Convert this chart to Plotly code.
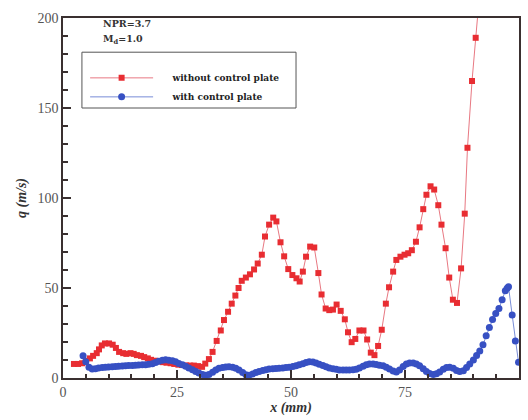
import plotly.graph_objects as go

red_x = [2.4, 3.3, 4.2, 5.0, 5.9, 6.6, 7.4, 7.9, 8.5, 9.2, 10.1, 10.9, 11.6, 12.3, 13.2, 13.9,
         14.8, 15.5, 16.2, 17.1, 17.8, 18.6, 19.3, 20.2, 21.0, 21.9, 22.7, 23.6, 24.4, 25.3,
         26.1, 27.0, 27.9, 28.7, 29.6, 30.5, 31.2, 32.0, 32.8, 33.7, 34.6, 35.3, 36.2, 37.0,
         37.8, 38.5, 39.2, 40.1, 41.0, 41.9, 42.7, 43.6, 44.3, 45.2, 46.1, 46.8, 47.7, 48.5,
         49.4, 50.3, 51.2, 51.9, 52.6, 53.3, 54.2, 55.1, 56.0, 56.7, 57.6, 58.4, 59.2, 60.0,
         60.9, 61.8, 62.5, 63.3, 64.1, 65.0, 65.9, 66.7, 67.5, 68.3, 69.1, 69.9, 70.8, 71.5,
         72.4, 73.1, 74.0, 74.9, 75.7, 76.5, 77.4, 78.2, 79.0, 79.7, 80.6, 81.4, 82.3, 83.0,
         83.9, 84.7, 85.5, 86.4, 87.3, 88.1, 88.7, 89.7, 90.5, 91.3]
red_y = [7.8, 7.8, 8.2, 9.6, 10.9, 12.3, 13.8, 15.9, 18.1, 19.2, 19.2, 18.5, 16.7, 14.5, 13.8, 13.4,
         13.8, 13.4, 12.7, 12.3, 11.6, 10.9, 10.1, 9.6, 9.2, 8.8, 8.5, 8.2, 7.8, 7.4,
         7.2, 7.0, 6.9, 6.9, 6.6, 6.2, 8.0, 10.5, 14.5, 20.6, 26.4, 32.2, 36.8, 41.3,
         45.8, 50.0, 54.0, 55.8, 57.6, 60.3, 63.6, 68.5, 78.6, 85.2, 89.1, 87.0, 75.4, 67.6,
         60.5, 57.2, 55.4, 53.6, 59.1, 67.4, 73.0, 72.5, 58.3, 46.4, 38.6, 37.7, 38.0, 40.8,
         37.3, 32.6, 25.4, 19.9, 21.7, 26.4, 26.4, 21.4, 14.1, 12.7, 17.8, 26.8, 41.3, 50.4,
         59.1, 65.6, 67.4, 68.5, 69.3, 71.0, 75.7, 83.7, 93.8, 101.8, 106.5, 104.7, 96.0, 85.2,
         72.1, 55.8, 43.5, 41.7, 60.9, 91.3, 127.9, 165.0, 189.0, 212.0]

blue_x = [4.4, 5.0, 5.7, 6.4, 7.1, 7.8, 8.6, 9.3, 10.0, 10.8, 11.5, 12.2, 13.0, 13.7, 14.4, 15.2,
          15.9, 16.6, 17.4, 18.1, 18.8, 19.6, 20.3, 21.0, 21.8, 22.5, 23.2, 24.0, 24.7, 25.4,
          26.2, 26.9, 27.6, 28.4, 29.1, 29.8, 30.6, 31.3, 32.0, 32.8, 33.5, 34.2, 35.0, 35.7,
          36.4, 37.2, 37.9, 38.6, 39.4, 40.1, 40.8, 41.6, 42.3, 43.0, 43.8, 44.5, 45.2, 46.0,
          46.7, 47.4, 48.2, 48.9, 49.6, 50.4, 51.1, 51.8, 52.6, 53.3, 54.0, 54.8, 55.5, 56.2,
          57.0, 57.7, 58.4, 59.2, 59.9, 60.6, 61.4, 62.1, 62.8, 63.6, 64.3, 65.0, 65.8, 66.5,
          67.2, 68.0, 68.7, 69.4, 70.2, 70.9, 71.6, 72.4, 73.1, 73.8, 74.6, 75.3, 76.0, 76.8,
          77.5, 78.2, 79.0, 79.7, 80.4, 81.2, 81.9, 82.6, 83.4, 84.1, 84.8, 85.6, 86.3, 87.0,
          87.8, 88.5, 89.2, 90.0, 90.7, 91.4, 92.1, 92.8, 93.5, 94.2, 94.9, 95.6, 96.3, 97.0,
          97.4, 97.7, 98.5, 99.2, 99.9]
blue_y = [12.3, 9.0, 6.0, 5.0, 5.2, 5.6, 5.8, 6.0, 6.1, 6.3, 6.4, 6.5, 6.6, 6.8, 6.9, 7.0,
          7.1, 7.2, 7.3, 7.4, 7.6, 7.9, 8.6, 9.3, 9.9, 10.1, 9.9, 9.6, 9.0, 8.0,
          7.3, 6.5, 5.6, 4.6, 3.6, 2.8, 2.0, 1.5, 2.0, 3.2, 4.5, 5.4, 5.9, 6.1,
          6.2, 6.0, 5.4, 4.4, 3.0, 1.8, 1.5, 2.2, 3.0, 3.6, 4.2, 4.6, 5.0, 5.2,
          5.3, 5.4, 5.6, 5.8, 6.0, 6.4, 6.8, 7.3, 7.9, 8.6, 9.0, 8.9, 8.4, 7.6,
          6.9, 6.2, 5.6, 5.2, 4.8, 4.5, 4.4, 4.4, 4.5, 4.6, 4.9, 5.6, 6.5, 7.3,
          7.8, 7.8, 7.5, 7.1, 6.8, 6.0, 5.0, 3.9, 3.3, 4.5, 6.4, 7.8, 8.3, 8.3,
          7.8, 6.8, 5.2, 3.6, 2.5, 2.0, 2.4, 3.4, 4.8, 5.9, 6.0, 5.4, 4.2, 3.6,
          4.0, 5.8, 7.8, 10.0, 12.5, 15.0, 18.5, 23.5, 28.0, 32.5, 35.9, 38.6, 43.5, 48.5,
          49.8, 50.7, 35.0, 20.5, 8.7]

x_ticks = [0, 25, 50, 75, 100]
y_ticks = [0, 50, 100, 150, 200]

serif = "Liberation Serif, Times New Roman, serif"
wide_serif = "DejaVu Serif, serif"
pad = "&nbsp;" * 5

fig = go.Figure()
fig.add_trace(go.Scatter(
    x=red_x, y=red_y, mode="lines+markers", name=pad + "<b>without control plate</b>",
    line=dict(color="rgb(232,120,130)", width=1),
    marker=dict(symbol="square", size=6, color="rgb(232,45,50)"),
))
fig.add_trace(go.Scatter(
    x=blue_x, y=blue_y, mode="lines+markers", name=pad + "<b>with control plate</b>",
    line=dict(color="rgb(120,140,215)", width=1),
    marker=dict(symbol="circle", size=7, color="rgb(55,80,195)"),
))

axis_common = dict(
    showgrid=False, zeroline=False, showline=True, linecolor="#3a3030", linewidth=1.5,
    mirror=True, ticks="inside", tickcolor="#3a3030", tickwidth=1.5, ticklen=8,
    tickfont=dict(family=serif, size=14, color="#555555"),
)

fig.update_xaxes(
    range=[0, 100], tickvals=x_ticks, ticktext=[str(v) for v in x_ticks],
    minor=dict(dtick=5, ticks="inside", ticklen=4, tickcolor="#3a3030"),
    title=dict(text="<b><i>x (mm)</i></b>", font=dict(family=serif, size=14, color="#333333"),
               standoff=4),
    **axis_common,
)
fig.update_yaxes(
    range=[0, 200], tickvals=y_ticks, ticktext=[str(v) for v in y_ticks],
    minor=dict(dtick=10, ticks="inside", ticklen=5, tickcolor="#3a3030"),
    title=dict(text="<b><i>q (m/s)</i></b>", font=dict(family=serif, size=14, color="#333333"),
               standoff=8),
    **axis_common,
)

fig.add_annotation(x=0.083, y=0.984, xref="paper", yref="paper", xanchor="left", yanchor="middle",
                   text="<b>NPR=3.7</b>", showarrow=False,
                   font=dict(family=wide_serif, size=9.5, color="#333333"))
fig.add_annotation(x=0.083, y=0.94, xref="paper", yref="paper", xanchor="left", yanchor="middle",
                   text="<b>M<sub>d</sub>=1.0</b>", showarrow=False,
                   font=dict(family=wide_serif, size=9.5, color="#333333"))

# legend frame
fig.add_shape(type="rect", xref="paper", yref="paper", x0=0.0415, x1=0.511, y0=0.75, y1=0.905,
              line=dict(color="#555555", width=1), fillcolor="rgba(0,0,0,0)", layer="above")

fig.update_layout(
    width=528, height=420,
    margin=dict(l=63, r=7, t=18, b=34),
    paper_bgcolor="white", plot_bgcolor="white",
    showlegend=True,
    legend=dict(
        x=0.0485, y=0.874, xanchor="left", yanchor="top",
        borderwidth=0, bgcolor="rgba(0,0,0,0)",
        font=dict(family=wide_serif, size=9, color="#222222"),
        itemwidth=63, tracegroupgap=4,
    ),
)

fig.write_html("out.html")
